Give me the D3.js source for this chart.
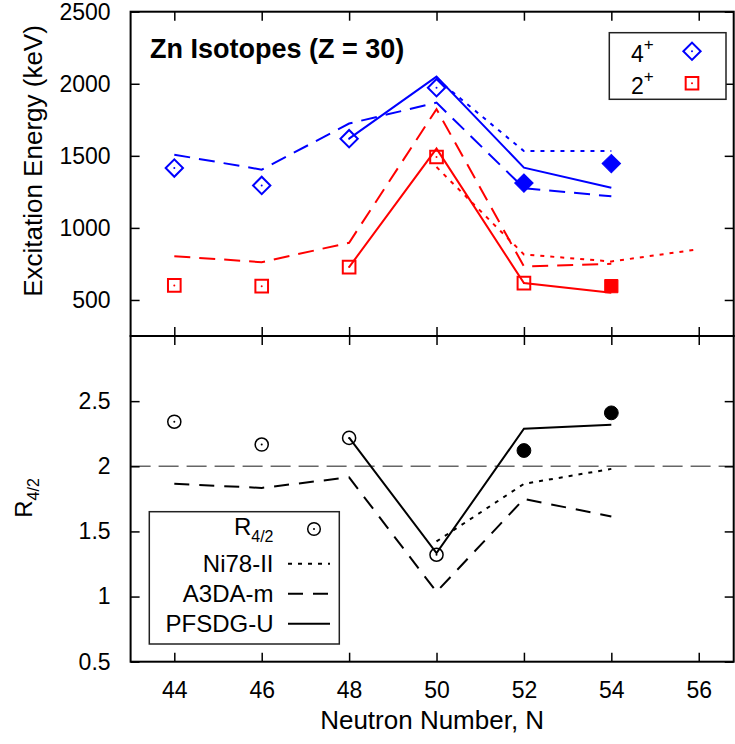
<!DOCTYPE html>
<html>
<head>
<meta charset="utf-8">
<script src="https://cdn.jsdelivr.net/npm/d3@7"></script>
<style>
body { margin: 0; background: #fff; }
text { font-family: "Liberation Sans", Arial, Helvetica, sans-serif; }
</style>
</head>
<body>
<script>
// excitation energies in keV, [N, E]
const e4Exp   = [[44,1415],[46,1295],[48,1619],[50,1973]];
const e4New   = [[52,1311],[54,1446]];
const e2Exp   = [[44,601],[46,596],[48,728],[50,1492],[52,617]];
const e2New   = [[54,596]];
const e4Ni78  = [[50,2035],[52,1533],[54,1533]];
const e2Ni78  = [[50,1422],[52,816],[54,767],[56,852]];
const e4A3da  = [[44,1508],[46,1404],[48,1724],[50,1869],[52,1276],[54,1219]];
const e2A3da  = [[44,804],[46,762],[48,897],[50,1824],[52,733],[54,751]];
const e4Pfsdg = [[48,1619],[50,2050],[52,1418],[54,1279]];
const e2Pfsdg = [[48,728],[50,1550],[52,617],[54,550]];

// R4/2 ratios, [N, R]
const rExp   = [[44,2.342],[46,2.167],[48,2.218],[50,1.321]];
const rNew   = [[52,2.121],[54,2.41]];
const rNi78  = [[50,1.423],[52,1.865],[54,1.98]];
const rA3da  = [[44,1.865],[46,1.834],[48,1.915],[50,1.036],[52,1.749],[54,1.615]];
const rPfsdg = [[48,2.22],[50,1.334],[52,2.288],[54,2.318]];
const rRef = 2;

const xTicks = [44,46,48,50,52,54,56];
const eTicks = [500,1000,1500,2000,2500];
const rTicks = [0.5,1,1.5,2,2.5];

const W = 735, H = 744;
const pL = 130.6, pR = 733.7, pT = 11.7, pM = 336, pB = 661.7;

const x  = d3.scaleLinear().domain([43, 56.8]).range([pL, pR]);
const yE = d3.scaleLinear().domain([250, 2500]).range([pM, pT]);
const yR = d3.scaleLinear().domain([0.5, 3]).range([pB, pM]);

const svg = d3.select("body").append("svg")
  .attr("width", W).attr("height", H);

const BLUE = "#0000ff", RED = "#ff0000";
const DASH = "16,9", DOT = "4,6", KDASH = "15,10";

function drawLine(data, y, color, dash) {
  const line = d3.line().x(d => x(d[0])).y(d => y(d[1]));
  svg.append("path").datum(data)
    .attr("d", line)
    .attr("fill", "none")
    .attr("stroke", color)
    .attr("stroke-width", 2)
    .attr("stroke-dasharray", dash);
}

function drawPoints(data, y, type, size, color, filled, rot, sw) {
  const sym = d3.symbol().type(type).size(size);
  const g = svg.append("g");
  g.selectAll("path").data(data).enter().append("path")
    .attr("d", sym)
    .attr("transform", d => "translate(" + x(d[0]) + "," + y(d[1]) + ") rotate(" + rot + ")")
    .attr("fill", filled ? color : "none")
    .attr("stroke", color)
    .attr("stroke-width", filled ? 1 : sw);
  if (!filled) {
    g.selectAll("circle").data(data).enter().append("circle")
      .attr("cx", d => x(d[0])).attr("cy", d => y(d[1]))
      .attr("r", 1).attr("fill", color);
  }
}

// ---- top panel: energies
drawLine(e4A3da, yE, BLUE, DASH);
drawLine(e4Ni78, yE, BLUE, DOT);
drawLine(e4Pfsdg, yE, BLUE, null);
drawLine(e2A3da, yE, RED, DASH);
drawLine(e2Ni78, yE, RED, DOT);
drawLine(e2Pfsdg, yE, RED, null);

drawPoints(e4Exp, yE, d3.symbolSquare, 150, BLUE, false, 45, 2);
drawPoints(e4New, yE, d3.symbolSquare, 170, BLUE, true, 45, 2);
drawPoints(e2Exp, yE, d3.symbolSquare, 160, RED, false, 0, 2);
drawPoints(e2New, yE, d3.symbolSquare, 175, RED, true, 0, 2);

// ---- bottom panel: R4/2
svg.append("line")
  .attr("x1", pL).attr("x2", pR)
  .attr("y1", yR(rRef)).attr("y2", yR(rRef))
  .attr("stroke", "#666").attr("stroke-width", 1.5)
  .attr("stroke-dasharray", "20,8");

drawLine(rA3da, yR, "#000", KDASH);
drawLine(rNi78, yR, "#000", DOT);
drawLine(rPfsdg, yR, "#000", null);

drawPoints(rExp, yR, d3.symbolCircle, 135, "#000", false, 0, 1.5);
drawPoints(rNew, yR, d3.symbolCircle, 150, "#000", true, 0, 1.5);

// ---- axes with inward ticks on all four sides
function axis(gen, tx, ty, labels, pad) {
  const g = svg.append("g").attr("transform", "translate(" + tx + "," + ty + ")")
    .call(gen.tickSizeInner(-9).tickSizeOuter(0).tickPadding(pad || 0));
  g.select(".domain").remove();
  g.selectAll(".tick line").attr("stroke", "#000").attr("stroke-width", 1.5);
  if (!labels) g.selectAll(".tick text").remove();
  else g.selectAll(".tick text").attr("font-size", 23).attr("fill", "#000")
    .style("font-family", "'Liberation Sans', Arial, Helvetica, sans-serif");
  return g;
}

axis(d3.axisLeft(yE).tickValues(eTicks).tickFormat(d3.format("d")), pL, 0, true, 20);
axis(d3.axisRight(yE).tickValues(eTicks), pR, 0, false);
axis(d3.axisTop(x).tickValues(xTicks), 0, pT, false);
axis(d3.axisBottom(x).tickValues(xTicks), 0, pM, false);

axis(d3.axisLeft(yR).tickValues(rTicks).tickFormat(d3.format("")), pL, 0, true, 20);
axis(d3.axisRight(yR).tickValues(rTicks), pR, 0, false);
axis(d3.axisTop(x).tickValues(xTicks), 0, pM, false);
axis(d3.axisBottom(x).tickValues(xTicks).tickFormat(d3.format("d")), 0, pB, true, 20);

// frames
[[pT, pM], [pM, pB]].forEach(p => {
  svg.append("rect")
    .attr("x", pL).attr("y", p[0])
    .attr("width", pR - pL).attr("height", p[1] - p[0])
    .attr("fill", "none").attr("stroke", "#000").attr("stroke-width", 2);
});

// ---- texts
svg.append("text")
  .attr("x", 150).attr("y", 58)
  .attr("font-size", 27).attr("font-weight", "bold")
  .text("Zn Isotopes (Z = 30)");

svg.append("text")
  .attr("transform", "translate(42,161) rotate(-90)")
  .attr("text-anchor", "middle").attr("font-size", 26)
  .text("Excitation Energy (keV)");

const rLab = svg.append("text")
  .attr("transform", "translate(32,498) rotate(-90)")
  .attr("text-anchor", "middle").attr("font-size", 24);
rLab.append("tspan").text("R");
rLab.append("tspan").attr("font-size", 16).attr("dy", 7).text("4/2");

svg.append("text")
  .attr("x", (pL + pR) / 2).attr("y", 729)
  .attr("text-anchor", "middle").attr("font-size", 26)
  .text("Neutron Number, N");

// ---- top legend
svg.append("rect")
  .attr("x", 609.3).attr("y", 32.7).attr("width", 116.7).attr("height", 66.6)
  .attr("fill", "#fff").attr("stroke", "#222").attr("stroke-width", 1.5);
[["4", 61.7, BLUE, 45], ["2", 93.7, RED, 0]].forEach(r => {
  const t = svg.append("text").attr("x", 631).attr("y", r[1]).attr("font-size", 23);
  t.append("tspan").text(r[0]);
  t.append("tspan").attr("font-size", 17).attr("dy", -11.5).text("+");
  const sy = r[1] - 10.5;
  svg.append("path")
    .attr("d", d3.symbol().type(d3.symbolSquare).size(r[3] ? 150 : 160)())
    .attr("transform", "translate(692," + sy + ") rotate(" + r[3] + ")")
    .attr("fill", "none").attr("stroke", r[2]).attr("stroke-width", 2);
  svg.append("circle").attr("cx", 692).attr("cy", sy).attr("r", 1).attr("fill", r[2]);
});

// ---- bottom legend
svg.append("rect")
  .attr("x", 149.3).attr("y", 511.7).attr("width", 190).attr("height", 132.3)
  .attr("fill", "#fff").attr("stroke", "#222").attr("stroke-width", 1.5);
const lg = svg.append("text").attr("x", 273.5).attr("y", 535)
  .attr("text-anchor", "end").attr("font-size", 24);
lg.append("tspan").text("R");
lg.append("tspan").attr("font-size", 16).attr("dy", 7).text("4/2");
svg.append("circle").attr("cx", 314).attr("cy", 529).attr("r", 6.3)
  .attr("fill", "none").attr("stroke", "#000").attr("stroke-width", 1.5);
svg.append("circle").attr("cx", 314).attr("cy", 529).attr("r", 1).attr("fill", "#000");

[["Ni78-II", 571.7, DOT], ["A3DA-m", 601.7, KDASH], ["PFSDG-U", 631.7, null]].forEach(r => {
  svg.append("text").attr("x", 273.5).attr("y", r[1])
    .attr("text-anchor", "end").attr("font-size", 24).text(r[0]);
  svg.append("line")
    .attr("x1", 288).attr("x2", 330).attr("y1", r[1] - 8).attr("y2", r[1] - 8)
    .attr("stroke", "#000").attr("stroke-width", 2)
    .attr("stroke-dasharray", r[2]);
});
</script>
</body>
</html>
